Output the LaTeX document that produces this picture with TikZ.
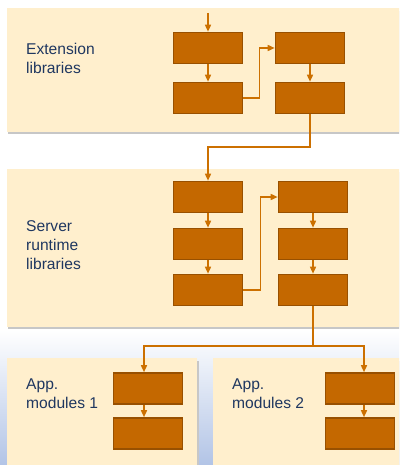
\documentclass[tikz,border=0pt]{standalone}
\usepackage{fontspec}
\setmainfont{Liberation Sans}
\usetikzlibrary{arrows.meta,calc}
\definecolor{panelfill}{HTML}{FFEFCD}
\definecolor{boxfill}{HTML}{C46800}
\definecolor{boxdraw}{HTML}{985000}
\definecolor{linkcol}{HTML}{CC7000}
\definecolor{txtcol}{HTML}{1F3760}
\definecolor{bgblue}{HTML}{B2C4E6}
\tikzset{
  panel/.style={fill=panelfill, draw=none},
  shadowpanel/.style={fill=black!22, draw=none},
  libbox/.style={draw=boxdraw, fill=boxfill, line width=1.6pt, minimum width=69pt, minimum height=31pt, inner sep=0pt},
  link/.style={draw=linkcol, line width=1.5pt, -{Triangle[length=7pt,width=6pt]}},
  plainlink/.style={draw=linkcol, line width=1.5pt},
  lbl/.style={anchor=west, align=left, text=txtcol, font=\fontsize{15.6}{19}\selectfont, inner sep=0pt}
}
\begin{document}
\begin{tikzpicture}[x=1pt,y=-1pt]
\useasboundingbox (0,0) rectangle (399,465);
\clip (0,0) rectangle (399,465);
\shade[top color=white, bottom color=bgblue] (0,330) rectangle (399,465);
% panels
\fill[shadowpanel] (8,11) rectangle (405,134);
\fill[panel] (7,8) rectangle (405,132);
\fill[shadowpanel] (8,172) rectangle (405,329);
\fill[panel] (7,169) rectangle (405,327);
\fill[shadowpanel] (8,361) rectangle (199,470);
\fill[panel] (7,358) rectangle (197,470);
\fill[shadowpanel] (214,361) rectangle (405,470);
\fill[panel] (213,358) rectangle (405,470);
% labels
\node[lbl] (lext) at (26,58.5) {Extension\\libraries};
\node[lbl] (lsrv) at (26,245) {Server\\runtime\\libraries};
\node[lbl] (lap1) at (26,394) {App.\\modules 1};
\node[lbl] (lap2) at (232,394) {App.\\modules 2};
% extension boxes
\node[libbox] (ea) at (208,48) {};
\node[libbox] (eb) at (208,98) {};
\node[libbox] (ec) at (310,48) {};
\node[libbox] (ed) at (310,98) {};
% server boxes
\node[libbox] (sa) at (208,197) {};
\node[libbox] (sb) at (208,244) {};
\node[libbox] (sc) at (208,290) {};
\node[libbox] (sd) at (313,197) {};
\node[libbox] (se) at (313,244) {};
\node[libbox] (sf) at (313,290) {};
% app boxes
\node[libbox] (aa) at (148,388.5) {};
\node[libbox] (ab) at (148,433.5) {};
\node[libbox] (ba) at (360,388.5) {};
\node[libbox] (bb) at (360,433.5) {};
% connectors
\coordinate (top) at (208,13);
\draw[link] (top) -- (ea.north);
\draw[link] (ea) -- (eb);
\draw[link] (eb.east) -- ++(16,0) |- (ec.west);
\draw[link] (ec) -- (ed);
\draw[link] (ed.south) |- (208,147) -- (sa.north);
\draw[link] (sa) -- (sb);
\draw[link] (sb) -- (sc);
\draw[link] (sc.east) -- ++(17,0) |- (sd.west);
\draw[link] (sd) -- (se);
\draw[link] (se) -- (sf);
\coordinate (split) at (313,346);
\draw[plainlink] (sf.south) -- (split);
\draw[link] (split) -| ($(aa.north)+(-4,0)$);
\draw[link] (split) -| ($(ba.north)+(4,0)$);
\draw[link] ($(aa.south)+(-4,0)$) -- ($(ab.north)+(-4,0)$);
\draw[link] ($(ba.south)+(4,0)$) -- ($(bb.north)+(4,0)$);
\end{tikzpicture}
\end{document}
